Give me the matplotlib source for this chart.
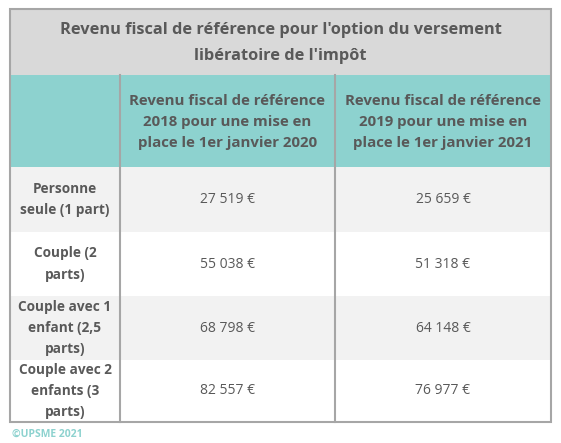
import matplotlib
matplotlib.use("Agg")
import matplotlib.pyplot as plt
from matplotlib.patches import Rectangle

title = "Revenu fiscal de référence pour l'option du versement\nlibératoire de l'impôt"
col_headers = ["Revenu fiscal de référence\n2018 pour une mise en\nplace le 1er janvier 2020",
               "Revenu fiscal de référence\n2019 pour une mise en\nplace le 1er janvier 2021"]
categories = ["Personne\nseule (1 part)", "Couple (2\nparts)", "Couple avec 1\nenfant (2,5\nparts)", "Couple avec 2\nenfants (3\nparts)"]
values_2020 = ["27 519 €", "55 038 €", "68 798 €", "82 557 €"]
values_2021 = ["25 659 €", "51 318 €", "64 148 €", "76 977 €"]
footer = "©UPSME 2021"

W, H = 561, 443
fig = plt.figure(figsize=(W/100, H/100), dpi=100)
ax = fig.add_axes([0, 0, 1, 1])
ax.set_xlim(0, W); ax.set_ylim(H, 0); ax.axis("off")

txt = "#595959"; border = "#a6a6a6"
L, R = 10, 551
xs = [L, 120, 335, R]
row_y = [167, 232, 296, 360, 422]
FONT = "Open Sans"

ax.add_patch(Rectangle((L, 9), R-L, 66, color="#d9d9d9", lw=0))
ax.add_patch(Rectangle((L, 75), R-L, 92, color="#8dd2cf", lw=0))
bgs = ["#f2f2f2", "white", "#f2f2f2", "white"]
for i in range(4):
    ax.add_patch(Rectangle((L, row_y[i]), R-L, row_y[i+1]-row_y[i], color=bgs[i], lw=0))

ax.text((L+R)/2, 43, title, ha="center", va="center", color=txt, fontsize=11.8,
        fontweight="bold", family=FONT, linespacing=1.85)
for j, h in enumerate(col_headers):
    ax.text((xs[j+1]+xs[j+2])/2, 122, h, ha="center", va="center", color=txt, fontsize=10.8,
            fontweight="bold", family=FONT, linespacing=1.65)
for i in range(4):
    cy = (row_y[i]+row_y[i+1])/2
    ax.text((xs[0]+xs[1])/2, cy, categories[i], ha="center", va="center", color=txt,
            fontsize=9.8, fontweight="bold", family=FONT, linespacing=1.65)
    ax.text((xs[1]+xs[2])/2, cy, values_2020[i], ha="center", va="center", color=txt,
            fontsize=10, family=FONT)
    ax.text((xs[2]+xs[3])/2, cy, values_2021[i], ha="center", va="center", color=txt,
            fontsize=10, family=FONT)

ax.add_patch(Rectangle((L, 9), R-L, 422-9, fill=False, ec=border, lw=1.5))
for x in xs[1:3]:
    ax.plot([x, x], [75, 422], color=border, lw=1.5)

ax.text(12, 434, footer, ha="left", va="center", color="#8dd2cf", fontsize=7.5,
        fontweight="bold", family=FONT)

fig.savefig("out.png", dpi=100)
